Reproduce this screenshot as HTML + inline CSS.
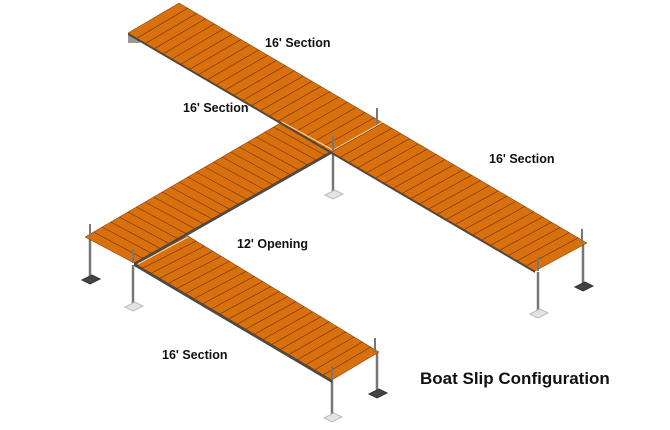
<!DOCTYPE html>
<html><head><meta charset="utf-8"><style>
html,body{margin:0;padding:0;background:#fff;width:670px;height:430px;overflow:hidden}
svg{display:block}
text{font-family:"Liberation Sans",Arial,sans-serif;font-weight:bold;fill:#111}
</style></head><body>
<svg id="s" width="670" height="430" viewBox="0 0 670 430">
<g id="legs" stroke="#777" stroke-width="2.5"></g>
<g id="decks"></g>
<g id="posts" stroke="#777" stroke-width="2"></g>
<text x="265" y="47" font-size="12.5">16' Section</text>
<text x="183" y="112" font-size="12.5">16' Section</text>
<text x="489" y="163" font-size="12.5">16' Section</text>
<text x="237" y="248" font-size="12.5">12' Opening</text>
<text x="162" y="359" font-size="12.5">16' Section</text>
<text x="420" y="384" font-size="17">Boat Slip Configuration</text>
</svg>
<script>
var NS="http://www.w3.org/2000/svg";
function el(p,t,a){var e=document.createElementNS(NS,t);for(var k in a)e.setAttribute(k,a[k]);p.appendChild(e);return e;}
var L=document.getElementById('legs'),D=document.getElementById('decks'),P=document.getElementById('posts');
function deck(A,B,C,Dd,n,thick){
 el(D,'polygon',{points:[A,Dd,[Dd[0],Dd[1]+thick],[A[0],A[1]+thick]].map(p=>p.join(',')).join(' '),fill:'#4a4a4a'});
 el(D,'polygon',{points:[A,B,C,Dd].map(p=>p.join(',')).join(' '),fill:'#d8700e',stroke:'#6a3000','stroke-width':0.5});
 for(var i=1;i<n;i++){var t=i/n;
  el(D,'line',{x1:A[0]+(Dd[0]-A[0])*t,y1:A[1]+(Dd[1]-A[1])*t,x2:B[0]+(C[0]-B[0])*t,y2:B[1]+(C[1]-B[1])*t,stroke:'#7a3a08','stroke-width':0.7});}
}
function leg(x,y1,y2,light){
 el(L,'line',{x1:x,y1:y1,x2:x,y2:y2});
 el(L,'polygon',{points:(x-8)+','+(y2+2)+' '+(x+2)+','+(y2-3)+' '+(x+10)+','+(y2+1)+' '+(x)+','+(y2+6),fill:light?'#e4e4e4':'#444',stroke:light?'#bbb':'#333','stroke-width':1});
}
leg(333,150,193,true);
leg(538,272,312,true);leg(583,245,285,false);
leg(90,238,278,false);leg(133,265,305,true);
leg(377,352,392,false);leg(332,380,416,true);
el(L,'rect',{x:128,y:34,width:12,height:9,fill:'#999',stroke:'none'});
deck([134,263],[188,236],[379,352],[332,380],23,3);
deck([134,263],[85,237],[282,122],[333,150],23,3);
deck([128,33],[179,3],[587,243],[535,271],46,2);
el(D,'line',{x1:282,y1:122,x2:333,y2:150,stroke:'#f5d9b0','stroke-width':1});
el(D,'line',{x1:333,y1:150,x2:383,y2:122,stroke:'#f5d9b0','stroke-width':1});
el(D,'line',{x1:138,y1:264,x2:188,y2:237,stroke:'#f5d9b0','stroke-width':1});
function post(x,y,h){el(P,'line',{x1:x,y1:y,x2:x,y2:y-h});}
post(333,150,14);post(377,124,16);
post(582,243,14);post(538,271,14);
post(90,237,13);post(133,263,14);
post(375,352,14);post(332,380,14);
</script>
</body></html>
